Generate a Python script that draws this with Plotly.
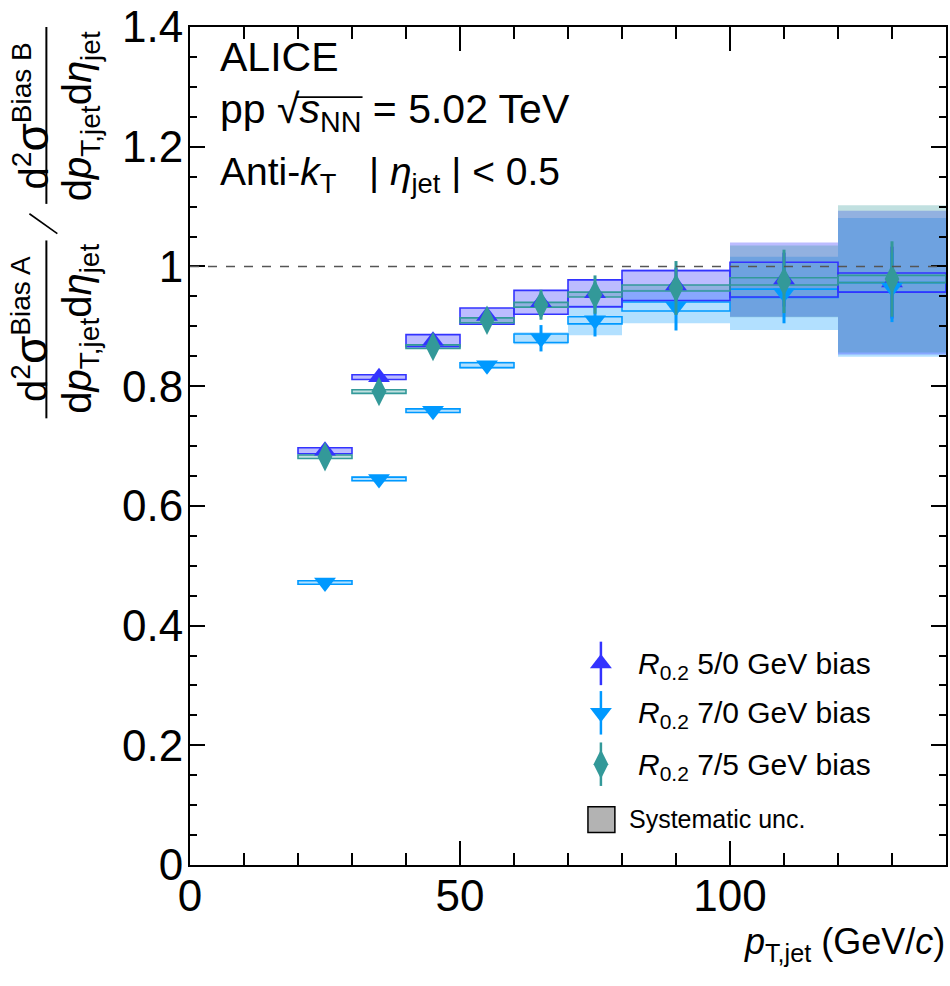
import plotly.graph_objects as go

FONT = "Liberation Sans, Arial, Helvetica, sans-serif"

# pT,jet bins (GeV/c)
bin_lo = [20, 30, 40, 50, 60, 70, 80, 100, 120]
bin_hi = [30, 40, 50, 60, 70, 80, 100, 120, 140]
pt_mid = [25, 35, 45, 55, 65, 75, 90, 110, 130]

# R0.2 5/0 GeV bias
ratio_50 = [0.692, 0.815, 0.876, 0.917, 0.940, 0.955, 0.968, 0.978, 0.973]
stat_50 = [0.003, 0.004, 0.005, 0.007, 0.012, 0.018, 0.030, 0.045, 0.060]
box_50 = [0.005, 0.004, 0.010, 0.0135, 0.020, 0.0225, 0.025, 0.029, 0.016]
sys_50 = [0.005, 0.004, 0.010, 0.0135, 0.020, 0.0225, 0.027, 0.062, 0.120]

# R0.2 7/0 GeV bias
ratio_70 = [0.472, 0.645, 0.759, 0.835, 0.880, 0.910, 0.933, 0.955, 0.965]
stat_70 = [0.003, 0.004, 0.005, 0.007, 0.022, 0.027, 0.040, 0.050, 0.058]
box_70 = [0.003, 0.003, 0.003, 0.004, 0.007, 0.006, 0.0075, 0.007, 0.008]
sys_70 = [0.004, 0.004, 0.004, 0.006, 0.010, 0.025, 0.028, 0.061, 0.116]

# R0.2 7/5 GeV bias
ratio_75 = [0.682, 0.791, 0.866, 0.910, 0.936, 0.953, 0.964, 0.975, 0.979]
stat_75 = [0.003, 0.004, 0.005, 0.007, 0.025, 0.032, 0.045, 0.053, 0.063]
box_75 = [0.003, 0.003, 0.003, 0.004, 0.004, 0.004, 0.005, 0.006, 0.006]
sys_75 = [0.003, 0.003, 0.003, 0.004, 0.004, 0.004, 0.005, 0.060, 0.123]

legend_labels = [
    "<i>R</i><sub>0.2</sub> 5/0 GeV bias",
    "<i>R</i><sub>0.2</sub> 7/0 GeV bias",
    "<i>R</i><sub>0.2</sub> 7/5 GeV bias",
]

C50, C70, C75 = "#3333ff", "#0099ff", "#339999"
series = [
    # name, values, stat, outline box, filled box, colour, fill, symbol, size
    ("5/0", ratio_50, stat_50, box_50, sys_50, C50, "rgba(51,51,255,0.33)", "triangle-up", 19),
    ("7/0", ratio_70, stat_70, box_70, sys_70, C70, "rgba(0,153,255,0.30)", "triangle-down", 19),
    ("7/5", ratio_75, stat_75, box_75, sys_75, C75, "rgba(51,153,153,0.30)", "diamond-tall", 21),
]

# page geometry (px) of the frame
W, H = 950, 986
L, R, T, B = 190, 948, 17, 865


def fx(p):
    return (p - L) / (R - L)


def fy(p):
    return (B - p) / (B - T)


fig = go.Figure()
shapes = []

# systematic boxes: fills first, then outlines
for order in (1, 0, 2):
    name, val, stat, box, sysu, col, fill, sym, size = series[order]
    for lo, hi, v, s in zip(bin_lo, bin_hi, val, sysu):
        shapes.append(dict(type="rect", xref="x", yref="y", x0=lo, x1=hi,
                           y0=v - s, y1=v + s, fillcolor=fill,
                           line=dict(width=0), layer="between"))
for order in (1, 0, 2):
    name, val, stat, box, sysu, col, fill, sym, size = series[order]
    for lo, hi, v, b in zip(bin_lo, bin_hi, val, box):
        shapes.append(dict(type="rect", xref="x", yref="y", x0=lo, x1=hi,
                           y0=v - b, y1=v + b, fillcolor="rgba(0,0,0,0)",
                           line=dict(color=col, width=1.6), layer="between"))

# unity line
shapes.append(dict(type="line", xref="x", yref="y", x0=0, x1=140, y0=1, y1=1,
                   line=dict(color="#555555", width=1.4, dash="dash")))

for name, val, stat, box, sysu, col, fill, sym, size in series:
    fig.add_trace(go.Scatter(
        x=pt_mid, y=val, mode="markers", showlegend=False,
        marker=dict(symbol=sym, size=size, color=col, line=dict(width=0)),
        error_y=dict(type="data", array=stat, width=0, thickness=3, color=col),
    ))

# legend drawn on a pixel-unit overlay axis
leg_x = 602
leg_y = [661, 711, 763]
for (name, val, stat, box, sysu, col, fill, sym, size), yy in zip(series, leg_y):
    fig.add_trace(go.Scatter(
        x=[leg_x], y=[yy], xaxis="x2", yaxis="y2", mode="markers", showlegend=False,
        marker=dict(symbol=sym, size=size, color=col, line=dict(width=0)),
        error_y=dict(type="data", array=[22], width=0, thickness=2.5, color=col),
        cliponaxis=False,
    ))

annotations = []
for yy, lab in zip(leg_y, legend_labels):
    annotations.append(dict(x=fx(637), y=fy(yy + 2), xref="paper", yref="paper", text=lab,
                            showarrow=False, xanchor="left", yanchor="middle",
                            font=dict(family=FONT, size=30, color="black")))
annotations.append(dict(x=fx(628), y=fy(818), xref="paper", yref="paper", text="Systematic unc.",
                        showarrow=False, xanchor="left", yanchor="middle",
                        font=dict(family=FONT, size=25, color="black")))
shapes.append(dict(type="rect", xref="paper", yref="paper", x0=fx(589), x1=fx(616),
                   y0=fy(832), y1=fy(806), fillcolor="#b3b3b3", line=dict(color="black", width=1.5)))

# text block
annotations.append(dict(x=fx(218), y=fy(47), xref="paper", yref="paper", text="ALICE",
                        showarrow=False, xanchor="left", yanchor="middle",
                        font=dict(family=FONT, size=41, color="black")))
annotations.append(dict(x=fx(218), y=fy(103), xref="paper", yref="paper",
                        text="pp √<i>s</i><sub>NN</sub> = 5.02 TeV",
                        showarrow=False, xanchor="left", yanchor="middle",
                        font=dict(family=FONT, size=41, color="black")))
shapes.append(dict(type="line", xref="paper", yref="paper", x0=fx(296), x1=fx(363),
                   y0=fy(88), y1=fy(88), line=dict(color="black", width=1.6)))
annotations.append(dict(x=fx(218), y=fy(166), xref="paper", yref="paper",
                        text="Anti-<i>k</i><sub>T</sub>   | <i>η</i><sub>jet</sub> | < 0.5",
                        showarrow=False, xanchor="left", yanchor="middle",
                        font=dict(family=FONT, size=39, color="black")))

# y title: ratio of two fractions, rotated
yt_font = dict(family=FONT, size=40, color="black")
for yc, bias in ((322, "A"), (107, "B")):
    annotations.append(dict(x=fx(3), y=fy(yc), xref="paper", yref="paper", textangle=-90,
                            text="d<sup>2</sup><span style='font-size:46px'>σ</span><sup>Bias %s</sup>" % bias,
                            showarrow=False, xanchor="left", yanchor="middle", font=yt_font))
    annotations.append(dict(x=fx(80), y=fy(yc), xref="paper", yref="paper", textangle=-90,
                            text="d<i>p</i><sub>T,jet</sub>d<i>η</i><sub>jet</sub>", showarrow=False,
                            xanchor="center", yanchor="middle", font=yt_font))
shapes.append(dict(type="line", xref="paper", yref="paper", x0=fx(46), x1=fx(46),
                   y0=fy(233), y1=fy(413), line=dict(color="black", width=2)))
shapes.append(dict(type="line", xref="paper", yref="paper", x0=fx(46), x1=fx(46),
                   y0=fy(17), y1=fy(196), line=dict(color="black", width=2)))
shapes.append(dict(type="line", xref="paper", yref="paper", x0=fx(29), x1=fx(57),
                   y0=fy(206), y1=fy(226), line=dict(color="black", width=1.6)))

# x title
annotations.append(dict(x=fx(949), y=fy(945), xref="paper", yref="paper",
                        text="<i>p</i><sub>T,jet</sub> (GeV/<i>c</i>)", showarrow=False,
                        xanchor="right", yanchor="middle",
                        font=dict(family=FONT, size=36, color="black")))

axis_common = dict(showline=True, linecolor="black", linewidth=2, mirror="ticks",
                   ticks="inside", tickcolor="black", tickwidth=1.5, showgrid=False,
                   zeroline=False, ticklabeloverflow="allow",
                   tickfont=dict(family=FONT, size=44, color="black"))

fig.update_layout(
    width=W, height=H,
    margin=dict(l=L, r=W - R, t=T, b=H - B),
    paper_bgcolor="white", plot_bgcolor="white",
    xaxis=dict(range=[0, 140], tick0=0, dtick=50, ticklen=24, ticklabelstandoff=-9,
               minor=dict(dtick=10, ticklen=12, ticks="inside", tickcolor="black", tickwidth=1.5),
               **axis_common),
    yaxis=dict(range=[0, 1.4], tick0=0, dtick=0.2, ticklen=15, ticklabelstandoff=-4,
               minor=dict(dtick=0.05, ticklen=7, ticks="inside", tickcolor="black", tickwidth=1.5),
               **axis_common),
    xaxis2=dict(overlaying="x", range=[L, R], visible=False),
    yaxis2=dict(overlaying="y", range=[B, T], visible=False),
    shapes=shapes,
    annotations=annotations,
    showlegend=False,
)

fig.write_html("out.html", config={"displayModeBar": False},
               post_script="document.body.style.margin='0px';document.body.style.overflow='hidden';")
